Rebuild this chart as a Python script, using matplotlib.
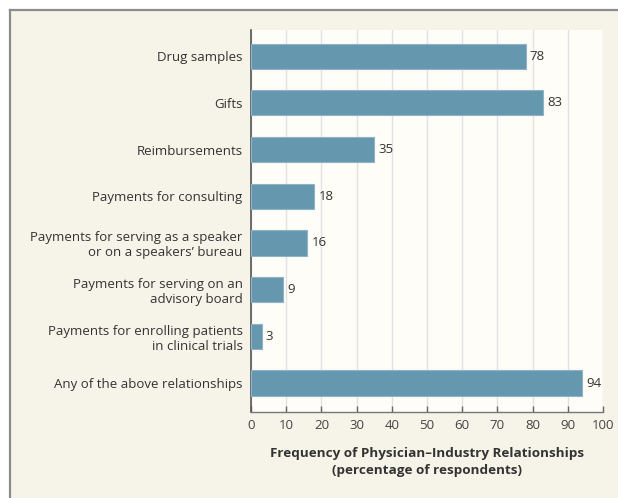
import matplotlib
matplotlib.use("Agg")
import matplotlib.pyplot as plt
from matplotlib.patches import Rectangle

categories = [
    "Drug samples",
    "Gifts",
    "Reimbursements",
    "Payments for consulting",
    "Payments for serving as a speaker\nor on a speakers\u2019 bureau",
    "Payments for serving on an\nadvisory board",
    "Payments for enrolling patients\nin clinical trials",
    "Any of the above relationships",
]
values = [78, 83, 35, 18, 16, 9, 3, 94]
x_ticks = [0, 10, 20, 30, 40, 50, 60, 70, 80, 90, 100]
x_label = "Frequency of Physician\u2013Industry Relationships\n(percentage of respondents)"

plt.rcParams["font.family"] = ["Open Sans", "DejaVu Sans"]

W, H = 618, 498
fig = plt.figure(figsize=(W / 100, H / 100), dpi=100)
fig.patch.set_facecolor("white")

# cream panel with grey top/left border, kept behind the axes
fig.patches.append(Rectangle((10 / W, 0), 1.0, 1 - 10 / H, transform=fig.transFigure,
                             facecolor="#f6f4e8", edgecolor="none", zorder=-2))
fig.lines.append(plt.Line2D([10 / W, 1], [1 - 10 / H, 1 - 10 / H], transform=fig.transFigure,
                            color="#8c8c8c", lw=1.6, zorder=-1))
fig.lines.append(plt.Line2D([10 / W, 10 / W], [0, 1 - 10 / H], transform=fig.transFigure,
                            color="#8c8c8c", lw=1.6, zorder=-1))

ax = fig.add_axes([251 / W, 86 / H, 352 / W, 382 / H])
ax.set_facecolor("#fefdf8")

pos = list(range(len(categories)))
ax.barh(pos, values, height=0.54, color="#6597af", edgecolor="#8fb4c6",
        linewidth=0.8, zorder=3)
for p, v in zip(pos, values):
    ax.text(v + 1.2, p, str(v), va="center", ha="left", fontsize=9.5, color="#333333")

ax.set_ylim(len(categories) - 1 + 0.62, -0.56)
ax.set_xlim(0, 100)
ax.set_xticks(x_ticks)
ax.set_yticks(pos)
ax.set_yticklabels(categories, fontsize=9.5, color="#333333", ha="right", multialignment="right")
ax.tick_params(axis="y", length=0, pad=6)
ax.tick_params(axis="x", direction="in", length=4, width=1, color="#666666",
               labelsize=9.5, labelcolor="#444444", pad=5)
ax.grid(axis="x", color="#e2e2e2", lw=1, zorder=0)

for s in ["top", "right"]:
    ax.spines[s].set_visible(False)
ax.spines["left"].set_color("#555555")
ax.spines["left"].set_linewidth(1.2)
ax.spines["bottom"].set_color("#777777")
ax.spines["bottom"].set_linewidth(1)

ax.set_xlabel(x_label, fontsize=9.7, fontweight="bold", color="#333333", labelpad=11,
              linespacing=1.35)

fig.savefig("out.png", dpi=100)
